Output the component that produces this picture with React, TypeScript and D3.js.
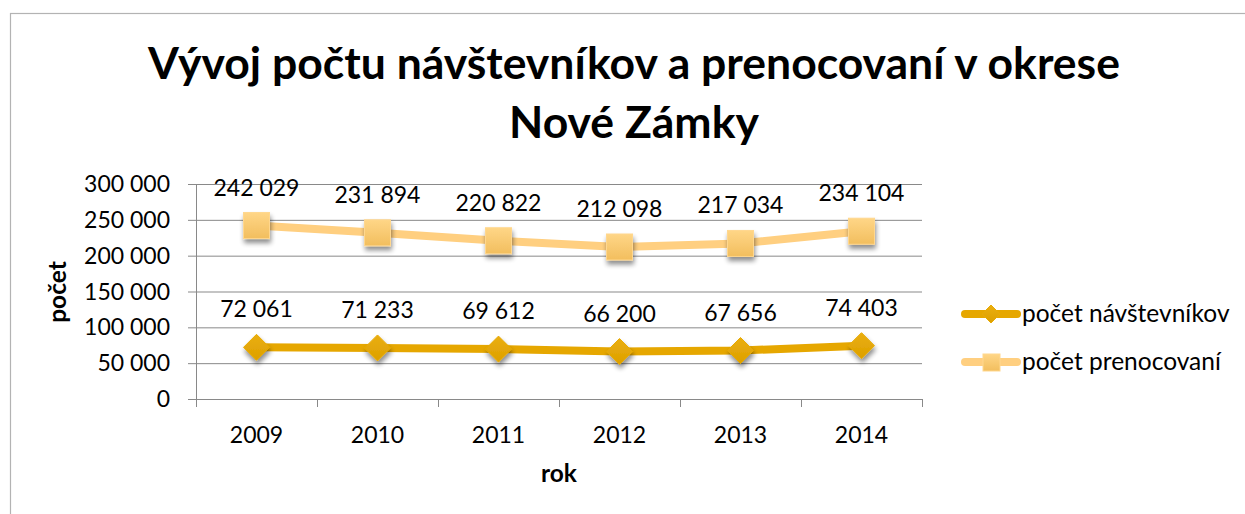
import React from "react";
import * as d3 from "d3";

const years = ["2009", "2010", "2011", "2012", "2013", "2014"];
const navstevnikov = [72061, 71233, 69612, 66200, 67656, 74403];
const prenocovani = [242029, 231894, 220822, 212098, 217034, 234104];
const yTicks = [0, 50000, 100000, 150000, 200000, 250000, 300000];
const seriesNames = ["počet návštevníkov", "počet prenocovaní"];
const titleLines = ["Vývoj počtu návštevníkov a prenocovaní v okrese", "Nové Zámky"];

const W = 1245;
const H = 514;
const FONT = "Lato, 'Open Sans', sans-serif";
const C1 = "#E6A700";
const C2 = "#FFCF80";

const fmt = (v: number) => d3.format(",")(v).replace(/,/g, " ");

export default function App() {
  const x = d3.scaleBand<string>().domain(years).range([196, 922]);
  const y = d3.scaleLinear().domain([0, 300000]).range([399, 184]);
  const cx = (d: string) => (x(d) as number) + x.bandwidth() / 2;
  const line = d3
    .line<number>()
    .x((_, i) => cx(years[i]))
    .y((v) => y(v));

  const diamond = (px: number, py: number, r: number) =>
    `M${px},${py - r}L${px + r},${py}L${px},${py + r}L${px - r},${py}Z`;

  return (
    <div style={{ position: "absolute", left: 0, top: 0 }}>
      <svg width={W} height={H} style={{ display: "block" }} fontFamily={FONT}>
        <defs>
          <filter id="sh" x="-50%" y="-50%" width="200%" height="200%">
            <feGaussianBlur in="SourceAlpha" stdDeviation="2.5" />
            <feOffset dx="1" dy="4" result="o" />
            <feComponentTransfer>
              <feFuncA type="linear" slope="0.45" />
            </feComponentTransfer>
            <feMerge>
              <feMergeNode />
              <feMergeNode in="SourceGraphic" />
            </feMerge>
          </filter>
          <linearGradient id="gSq" x1="0" y1="0" x2="0" y2="1">
            <stop offset="0" stopColor="#FFD687" />
            <stop offset="1" stopColor="#F2BE5E" />
          </linearGradient>
          <linearGradient id="gDi" x1="0" y1="0" x2="0" y2="1">
            <stop offset="0" stopColor="#EAAE10" />
            <stop offset="1" stopColor="#DDA000" />
          </linearGradient>
        </defs>
        <rect x={10.5} y={13.5} width={1300} height={600} fill="#fff" stroke="#B3B3B3" strokeWidth={1.2} />

        {titleLines.map((t, i) => (
          <text key={i} x={634} y={79 + i * 59} textAnchor="middle" fontWeight="bold" fontSize={44.5} fill="#000">
            {t}
          </text>
        ))}

        {/* gridlines */}
        {yTicks.map((t) => (
          <line key={t} x1={188} x2={922} y1={y(t) + 0.5} y2={y(t) + 0.5} stroke="#898989" strokeWidth={1} />
        ))}
        <line x1={196.5} x2={196.5} y1={184} y2={407} stroke="#898989" />
        {years.map((d) => (
          <line key={d} x1={(x(d) as number) + x.bandwidth() + 0.5} x2={(x(d) as number) + x.bandwidth() + 0.5} y1={399} y2={407} stroke="#898989" />
        ))}
        {yTicks.map((t) => (
          <text key={t} x={170} y={y(t) + 8} textAnchor="end" fontSize={23} fill="#000">
            {fmt(t)}
          </text>
        ))}
        {years.map((d) => (
          <text key={d} x={cx(d)} y={443} textAnchor="middle" fontSize={23} fill="#000">
            {d}
          </text>
        ))}
        <text x={559} y={482} textAnchor="middle" fontWeight="bold" fontSize={24.5} fill="#000">
          rok
        </text>
        <text transform="translate(66,292) rotate(-90)" textAnchor="middle" fontWeight="bold" fontSize={24.5} fill="#000">
          počet
        </text>

        {/* series lines */}
        <path d={line(prenocovani) || ""} fill="none" stroke={C2} strokeWidth={8} strokeLinejoin="round" />
        <path d={line(navstevnikov) || ""} fill="none" stroke={C1} strokeWidth={8} strokeLinejoin="round" />

        {prenocovani.map((v, i) => (
          <rect key={i} x={cx(years[i]) - 13} y={y(v) - 13} width={26} height={26} fill="url(#gSq)" stroke="#FFD78E" strokeWidth={1} filter="url(#sh)" />
        ))}
        {navstevnikov.map((v, i) => (
          <path key={i} d={diamond(cx(years[i]), y(v), 13)} fill="url(#gDi)" stroke="#E8AA05" strokeWidth={1} filter="url(#sh)" />
        ))}

        {prenocovani.map((v, i) => (
          <text key={i} x={cx(years[i])} y={y(v) - 30} textAnchor="middle" fontSize={23} fill="#000">
            {fmt(v)}
          </text>
        ))}
        {navstevnikov.map((v, i) => (
          <text key={i} x={cx(years[i])} y={y(v) - 30} textAnchor="middle" fontSize={23} fill="#000">
            {fmt(v)}
          </text>
        ))}

        {/* legend */}
        {[C1, C2].map((c, i) => {
          const ly = 314 + i * 48;
          return (
            <g key={i}>
              <line x1={965} x2={1017} y1={ly} y2={ly} stroke={c} strokeWidth={8} strokeLinecap="round" />
              {i === 0 ? (
                <path d={diamond(991, ly, 9)} fill="url(#gDi)" stroke="#E8AA05" />
              ) : (
                <rect x={983} y={ly - 8} width={17} height={17} fill="url(#gSq)" stroke="#FFD78E" />
              )}
              <text x={1022} y={ly + 8} fontSize={24.5} fill="#000">
                {seriesNames[i]}
              </text>
            </g>
          );
        })}
      </svg>
    </div>
  );
}
